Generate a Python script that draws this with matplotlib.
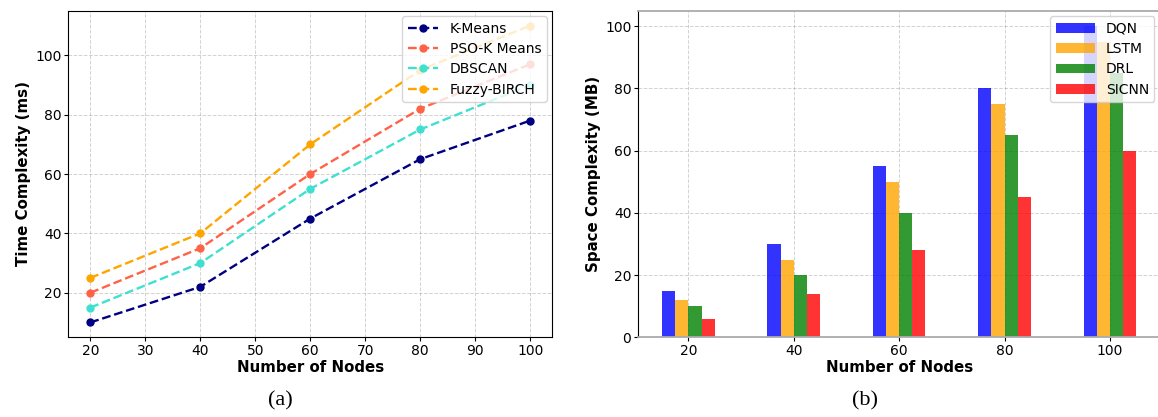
import matplotlib
matplotlib.use("Agg")
import matplotlib.pyplot as plt
import numpy as np

plt.rcParams['font.family'] = ['DejaVu Sans']
plt.rcParams['font.sans-serif'] = ['DejaVu Sans']

# Data
nodes = [20, 40, 60, 80, 100]
kmeans = [10, 22, 45, 65, 78]
pso_kmeans = [20, 35, 60, 82, 97]
dbscan = [15, 30, 55, 75, 90]
fuzzy_birch = [25, 40, 70, 95, 110]

dqn = [15, 30, 55, 80, 100]
lstm = [12, 25, 50, 75, 95]
drl = [10, 20, 40, 65, 85]
sicnn = [6, 14, 28, 45, 60]

W, H = 1158, 417
fig = plt.figure(figsize=(W / 100, H / 100), dpi=100)

fs = 10
lfs = 10.8
# Left panel
ax1 = fig.add_axes([68.3 / W, (H - 337.3) / H, (552.3 - 68.3) / W, (337.3 - 10.7) / H])
series = [("K-Means", kmeans, "navy"), ("PSO-K Means", pso_kmeans, "tomato"),
          ("DBSCAN", dbscan, "turquoise"), ("Fuzzy-BIRCH", fuzzy_birch, "orange")]
for name, vals, c in series:
    ax1.plot(nodes, vals, linestyle="--", marker="o", color=c, label=name,
             linewidth=1.7, markersize=5)
ax1.set_xlabel("Number of Nodes", fontweight="bold", fontsize=lfs, labelpad=1.5)
ax1.set_ylabel("Time Complexity (ms)", fontweight="bold", fontsize=lfs, labelpad=3)
ax1.tick_params(labelsize=fs, length=3, pad=2)
ax1.grid(True, linestyle="--", color="gray", alpha=0.35, linewidth=0.7)
ax1.legend(loc="upper right", fontsize=fs,
           borderaxespad=0.4, handlelength=2.2, labelspacing=0.45)

# Right panel
ax2 = fig.add_axes([638.3 / W, (H - 337.3) / H, (1160 - 638.3) / W, (337.3 - 10.7) / H])
x = np.array(nodes, dtype=float)
bw = 2.5
for i, (name, vals, c) in enumerate([("DQN", dqn, "blue"), ("LSTM", lstm, "orange"),
                                     ("DRL", drl, "green"), ("SICNN", sicnn, "red")]):
    ax2.bar(x + (i - 1.5) * bw, vals, width=bw, color=c, alpha=0.8, label=name)
ax2.set_xticks(nodes)
ax2.set_xlim(10.5, 109.5)
ax2.set_ylim(0, 105)
ax2.set_xlabel("Number of Nodes", fontweight="bold", fontsize=lfs, labelpad=1.5)
ax2.set_ylabel("Space Complexity (MB)", fontweight="bold", fontsize=lfs, labelpad=3)
ax2.tick_params(labelsize=fs, length=3, pad=2)
ax2.grid(True, linestyle="--", color="gray", alpha=0.35, linewidth=0.7)
ax2.set_axisbelow(True)
for s in ["top", "bottom", "right"]:
    ax2.spines[s].set_color("#aaaaaa")
    ax2.spines[s].set_linewidth(1.3)
ax2.legend(loc="upper right", fontsize=fs,
           borderaxespad=0.4, handlelength=2.8, labelspacing=0.45)

fig.text(280 / W, (H - 401) / H, "(a)", ha="center", va="center",
         fontsize=16, family="Liberation Serif")
fig.text(865 / W, (H - 401) / H, "(b)", ha="center", va="center",
         fontsize=16, family="Liberation Serif")

fig.savefig("out.png", dpi=100)
